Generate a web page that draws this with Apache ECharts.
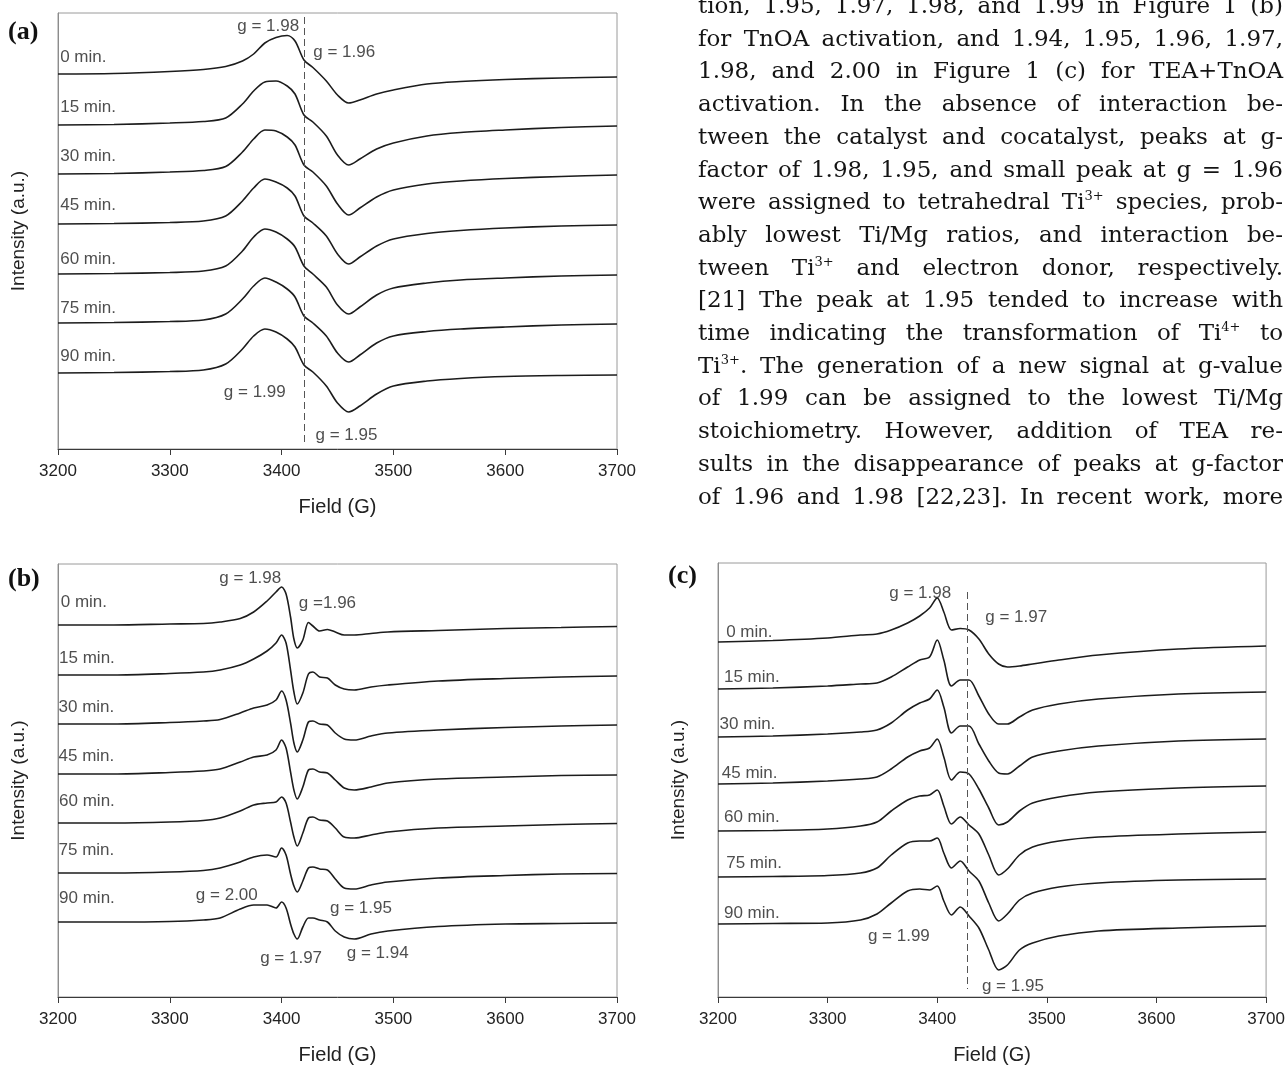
<!DOCTYPE html>
<html>
<head>
<meta charset="utf-8">
<title>EPR spectra</title>
<script src="https://cdn.jsdelivr.net/npm/echarts@6/dist/echarts.min.js"></script>
<style>
  html, body { margin: 0; padding: 0; background: #fff; }
  #chart { position: absolute; left: 0; top: 0; width: 1288px; height: 1066px; }
  #para { position: absolute; left: 698px; top: 0; width: 586px; height: 520px; overflow: hidden;
          font-family: "DejaVu Serif", "Liberation Serif", serif; font-size: 23px; color: #141414; }
  #para div { position: absolute; left: 0; width: 585px; line-height: 32px; height: 32px;
              white-space: nowrap; text-align: justify; text-align-last: justify; }
  #para sup { font-size: 13px; vertical-align: 9px; line-height: 0; }
</style>
</head>
<body>
<div id="chart"></div>
<div id="para"></div>
<script>
// ---------- shared ----------
const TIMES = ['0 min.', '15 min.', '30 min.', '45 min.', '60 min.', '75 min.', '90 min.'];
const xTicks = [3200, 3700, 100];   // min, max, interval of the field axis (G)

// ---------- (a) TEA activation ----------
const fieldA = [3200, 3250, 3300, 3330, 3350, 3365, 3375, 3385, 3395, 3405, 3412, 3420,
                3428, 3440, 3450, 3460, 3470, 3485, 3500, 3530, 3560, 3600, 3650, 3700];
const A_0  = [0, 0.5, 2.5, 4.5, 7.5, 13, 20, 31, 36.5, 38.5, 33, 14, 6.5, -7, -21, -29, -26, -20, -16, -10, -7.5, -5.5, -4, -3];
const A_15 = [0, 0.5, 2, 3.5, 7, 21, 34, 43, 44, 39, 31, 10, 3, -11, -30, -40, -34, -24, -18, -11, -7.5, -5, -2.5, -1];
const A_30 = [0, 0.5, 2, 3.5, 7.5, 22, 35, 44, 43, 37, 29, 9, 2, -12, -30, -41, -34, -23, -16, -10, -7, -4.5, -2.5, -1];
const A_45 = [0, 0.5, 1.5, 3, 8, 23, 36, 45, 42, 36, 28, 8, 1, -12, -30, -40, -33, -22, -15, -9.5, -6.5, -4, -2, -1];
const A_60 = [0, 0.5, 1.5, 3, 8, 23, 37, 45, 42, 35, 27, 8, 0, -13, -31, -40, -33, -21, -14, -9, -6, -4, -2, -1];
const A_75 = [0, 0.5, 1.5, 3, 9, 24, 37, 45, 41, 34, 26, 7, 0, -13, -30, -39, -32, -20, -13, -8.5, -6, -4, -2, -1];
const A_90 = [0, 0.5, 1.5, 3, 9, 24, 37, 44, 41, 34, 26, 8, 1, -13, -30, -39, -33, -21, -13, -8, -5.5, -3.5, -2.5, -2];
const offsetA = [375, 324, 275, 225, 175, 126, 76];      // vertical stacking of the spectra
const labelYA = [392, 342, 293, 244, 190, 141, 93];
const labelXA = [3201.5, 3201.5, 3201.5, 3201.5, 3201.5, 3201.5, 3201.5];
const gTextA = ['g = 1.98', 'g = 1.96', 'g = 1.99', 'g = 1.95'];
const gPosA  = [[3388, 423], [3456, 397], [3376, 57], [3458, 14]];
const dashA  = [[3420, 432], [3420, 7]];

// ---------- (b) TnOA activation ----------
const fieldB = [3200, 3250, 3300, 3330, 3345, 3363, 3375, 3387, 3395, 3400, 3404, 3408, 3411, 3414,
                3419, 3424, 3428, 3434, 3441, 3448, 3456, 3465, 3480, 3495, 3540, 3600, 3650, 3700];
const B_0  = [0, 0, 1, 1.5, 3, 6.5, 13, 24, 33, 38, 31, 8, -14, -23, -15, 2.5, -1, -6, -4.5, -7, -10, -10, -8.5, -7, -5.5, -3.5, -2.5, -1.5];
const B_15 = [0, 0, 1.5, 3, 5, 10, 16, 24, 32, 40, 32, 5, -17, -29, -18, 1, 3, -2, -3, -10, -14, -15, -12, -10, -6, -3.5, -2, -1];
const B_30 = [0, 0, 1.5, 3, 4.5, 11, 16, 19, 24, 33, 24, 1, -19, -28, -16, 2, 3, 0, -1, -9, -15, -16, -12, -9, -6, -3.5, -2, -1];
const B_45 = [0, 0, 1.5, 3, 5, 12, 17, 19, 24, 34, 26, 2, -16, -25, -13, 4, 5, 2, 1, -6, -14, -16, -13, -9, -5, -3, -1.5, -1];
const B_60 = [0, 0, 1, 2.5, 5, 12, 18, 20, 21, 26, 20, 1, -14, -23, -10, 5, 6, 3, 2, -5, -14, -15, -12, -9, -5, -3, -1.5, -0.5];
const B_75 = [0, 0, 1, 2.5, 5, 11, 16, 18, 16, 25, 18, -1, -13, -19, -8, 5, 6, 4, 3, -6, -15, -16, -12, -9, -5, -2.5, -1, -0.5];
const B_90 = [0, 0, 0.5, 2, 4, 13, 17, 17, 14, 20, 14, -2, -12, -17, -5, 4, 4, 2, 0, -9, -15, -17, -12, -9, -4.5, -2, -1.5, -1];
const offsetB = [372, 322, 273, 223, 174, 124, 75];
const labelYB = [395, 339, 290, 241, 196, 147, 99];
const labelXB = [3202, 3200.5, 3200, 3200, 3200.5, 3200, 3200.5];
const gTextB = ['g = 1.98', 'g =1.96', 'g = 2.00', 'g = 1.95', 'g = 1.97', 'g = 1.94'];
const gPosB  = [[3372, 419], [3441, 394], [3351, 102], [3471, 89], [3408.5, 39], [3486, 44]];

// ---------- (c) TEA+TnOA activation ----------
const fieldC = [3200, 3250, 3300, 3330, 3345, 3358, 3373, 3384, 3393, 3400, 3406, 3413,
                3421, 3429, 3438, 3447, 3456, 3464, 3475, 3487, 3511, 3547, 3620, 3700];
const C_0  = [0, 1.5, 4, 7, 8, 12, 19, 26, 34, 44, 30, 12, 13.5, 12, 3, -12, -22, -25, -24, -22, -18, -13, -7, -4];
const C_15 = [0, 1, 3, 5, 6, 12, 22, 29, 32, 49, 29, 3, 9, 9, -7, -25, -35, -35, -28, -21, -15, -10, -5, -3];
const C_30 = [0, 1, 3, 5, 7, 14, 27, 34, 38, 47, 30, 4, 11, 11, -7, -24, -36, -37, -29, -20, -14, -9, -4, -2];
const C_45 = [0, 1, 3, 5, 7, 15, 27, 33, 36, 45, 27, 4, 12, 10, -5, -24, -41, -38, -27, -19, -13, -8, -4, -2];
const C_60 = [0, 0.5, 2, 5, 9, 20, 31, 35, 36, 41, 25, 7, 14, 6, -3, -24, -44, -38, -24, -16, -10, -6, -3, -1];
const C_75 = [0, 0.5, 1.5, 4, 9, 22, 34, 36, 36, 39, 24, 9, 16, 6, -4, -26, -44, -37, -23, -16, -10, -6, -3, -2];
const C_90 = [0, 0.5, 1, 4, 10, 21, 33, 35, 34, 38, 23, 9, 17, 8, -4, -26, -46, -41, -26, -19, -12, -7, -4, -2];
const offsetC = [355, 308, 260, 213, 166, 120, 73];
const labelYC = [365, 320, 273, 224, 180, 134, 84];
const labelXC = [3207, 3205, 3201, 3203, 3205, 3207, 3205];
const gTextC = ['g = 1.98', 'g = 1.97', 'g = 1.99', 'g = 1.95'];
const gPosC  = [[3384.5, 404], [3472, 380], [3365, 61], [3469, 11]];
const dashC  = [[3427, 405], [3427, 8]];

// ---------- body text beside the figure ----------
const paraLines = [
  'tion, 1.95, 1.97, 1.98, and 1.99 in Figure 1 (b)',
  'for TnOA activation, and 1.94, 1.95, 1.96, 1.97,',
  '1.98, and 2.00 in Figure 1 (c) for TEA+TnOA',
  'activation. In the absence of interaction be-',
  'tween the catalyst and cocatalyst, peaks at g-',
  'factor of 1.98, 1.95, and small peak at g = 1.96',
  'were assigned to tetrahedral Ti<sup>3+</sup> species, prob-',
  'ably lowest Ti/Mg ratios, and interaction be-',
  'tween Ti<sup>3+</sup> and electron donor, respectively.',
  '[21] The peak at 1.95 tended to increase with',
  'time indicating the transformation of Ti<sup>4+</sup> to',
  'Ti<sup>3+</sup>. The generation of a new signal at g-value',
  'of 1.99 can be assigned to the lowest Ti/Mg',
  'stoichiometry. However, addition of TEA re-',
  'sults in the disappearance of peaks at g-factor',
  'of 1.96 and 1.98 [22,23]. In recent work, more'
];
const para = document.getElementById('para');
paraLines.forEach(function (t, i) {
  const d = document.createElement('div');
  d.style.top = (5 + 32.7 * i - 16) + 'px';
  d.innerHTML = t;
  para.appendChild(d);
});

// ---------- chart ----------
const FONT = '"Liberation Sans", Arial, sans-serif';
const INK = '#1c1c1c';
const panels = [
  { grid: { left: 58, top: 13, width: 559, height: 436 }, field: fieldA,
    spectra: [A_0, A_15, A_30, A_45, A_60, A_75, A_90], offsets: offsetA,
    labelX: labelXA, labelY: labelYA, gText: gTextA, gPos: gPosA, dash: dashA },
  { grid: { left: 58, top: 564, width: 559, height: 433 }, field: fieldB,
    spectra: [B_0, B_15, B_30, B_45, B_60, B_75, B_90], offsets: offsetB,
    labelX: labelXB, labelY: labelYB, gText: gTextB, gPos: gPosB, dash: null },
  { grid: { left: 718, top: 563, width: 550, height: 434 }, field: fieldC,
    spectra: [C_0, C_15, C_30, C_45, C_60, C_75, C_90], offsets: offsetC,
    labelX: labelXC, labelY: labelYC, gText: gTextC, gPos: gPosC, dash: dashC }
];

const grids = [], xAxes = [], yAxes = [], series = [];
panels.forEach(function (p, gi) {
  grids.push(Object.assign({ show: true, borderColor: '#9a9a9a', borderWidth: 1,
                             backgroundColor: 'transparent' }, p.grid));
  xAxes.push({
    gridIndex: gi, type: 'value', min: xTicks[0], max: xTicks[1], interval: xTicks[2],
    axisLine: { show: true, onZero: false, lineStyle: { color: '#3a3a3a', width: 1 } },
    axisTick: { show: true, length: 6, lineStyle: { color: '#3a3a3a' } },
    axisLabel: { fontSize: 17, color: '#222', margin: 14, fontFamily: FONT,
                 formatter: function (v) { return String(v); } },
    splitLine: { show: false },
    name: 'Field (G)', nameLocation: 'middle', nameGap: 48,
    nameTextStyle: { fontSize: 20, color: '#222', fontFamily: FONT }
  });
  yAxes.push({
    gridIndex: gi, type: 'value', min: 0, max: p.grid.height,
    axisLine: { show: true, lineStyle: { color: '#8c8c8c' } },
    axisTick: { show: false }, axisLabel: { show: false }, splitLine: { show: false },
    name: 'Intensity (a.u.)', nameLocation: 'middle', nameRotate: 90, nameGap: 30,
    nameTextStyle: { fontSize: 19, color: '#222', fontFamily: FONT }
  });

  p.spectra.forEach(function (sig, k) {
    const s = {
      type: 'line', name: TIMES[k], xAxisIndex: gi, yAxisIndex: gi,
      showSymbol: false, smooth: 0.3, silent: true, animation: false,
      lineStyle: { color: INK, width: 1.6 },
      data: p.field.map(function (f, i) { return [f, p.offsets[k] + sig[i]]; })
    };
    if (k === 0 && p.dash) {
      s.markLine = {
        silent: true, symbol: 'none', animation: false, label: { show: false },
        lineStyle: { type: [7, 4], color: '#555', width: 1 },
        data: [[{ coord: p.dash[0] }, { coord: p.dash[1] }]]
      };
    }
    series.push(s);
  });

  // time labels (left aligned) and g-value annotations (centred)
  const ann = [];
  TIMES.forEach(function (t, k) {
    ann.push({ name: t, value: [p.labelX[k], p.labelY[k]],
               label: { position: 'right', distance: 0 } });
  });
  p.gText.forEach(function (t, k) {
    ann.push({ name: t, value: p.gPos[k], label: { position: 'inside' } });
  });
  series.push({
    type: 'scatter', xAxisIndex: gi, yAxisIndex: gi, silent: true, animation: false,
    symbolSize: 1, itemStyle: { color: 'rgba(0,0,0,0)' },
    label: { show: true, formatter: '{b}', fontSize: 17, color: '#222', fontFamily: FONT },
    labelLayout: { hideOverlap: false },
    data: ann, z: 5
  });
});

const letters = [['(a)', 8, 33], ['(b)', 8, 580], ['(c)', 668, 577]];
const chart = echarts.init(document.getElementById('chart'), null, { renderer: 'canvas' });
chart.setOption({
  animation: false,
  backgroundColor: '#ffffff',
  grid: grids, xAxis: xAxes, yAxis: yAxes, series: series,
  graphic: letters.map(function (l) {
    return { type: 'text', left: l[1], top: l[2] - 14,
             style: { text: l[0], font: 'bold 26px "Liberation Serif", serif', fill: '#111' } };
  })
});
</script>
</body>
</html>
